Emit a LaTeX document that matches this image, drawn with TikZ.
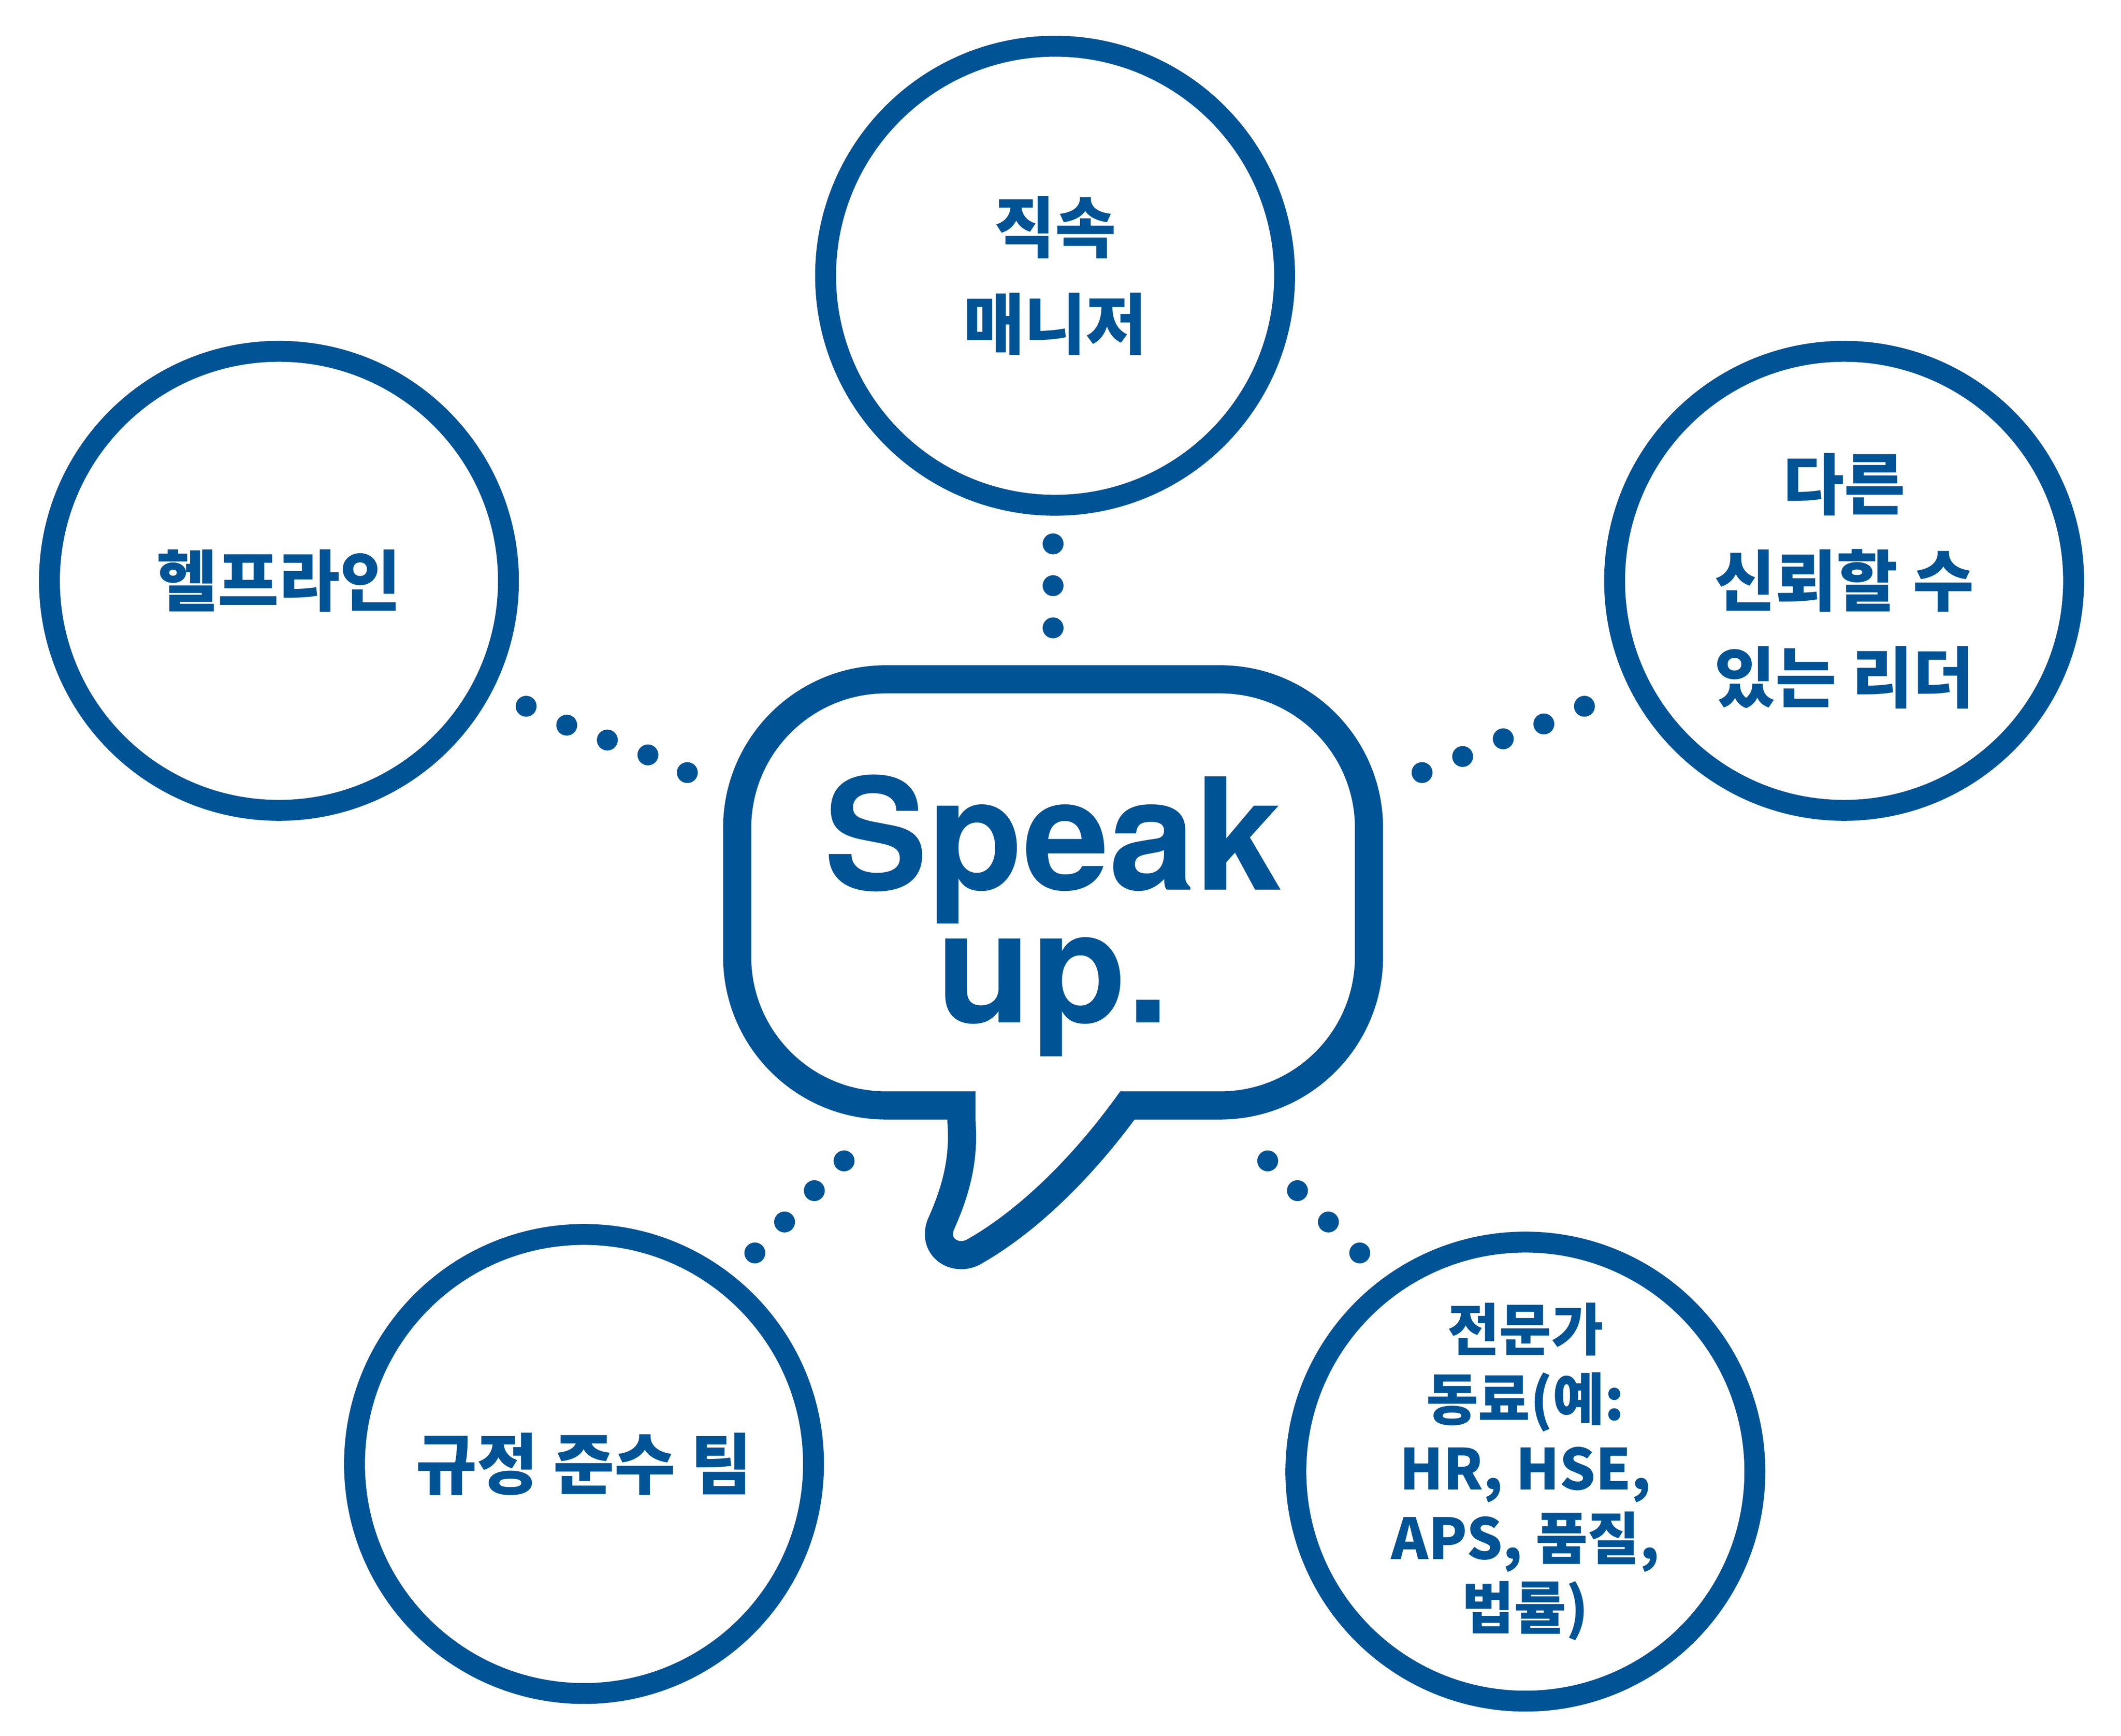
\documentclass[tikz,border=0pt]{standalone}
\usepackage{fontspec}
\usepackage{xcolor}
\usepackage{tikz}
\usetikzlibrary{positioning}

\newfontfamily\kofont{Noto Sans CJK KR}
\newfontfamily\speakfont{TeX Gyre Heros}
\definecolor{speakblue}{RGB}{0,84,150}

\begin{document}
\begin{tikzpicture}[
  ring/.style={circle, draw=speakblue, line width=0.52cm, minimum size=11.42cm, inner sep=0pt,
    text=speakblue, align=center, font=\kofont\bfseries\fontsize{47}{68.3}\selectfont},
  smallring/.style={ring, font=\kofont\bfseries\fontsize{40}{49.2}\selectfont},
  bubble/.style={draw=speakblue, line width=0.70cm},
  speakdot/.style={fill=speakblue}
]
\useasboundingbox (0,0) rectangle (52.77,43.18);

% speech bubble
\draw[bubble] (23.92,15.68) -- (23.92,15.28)
  .. controls (24.00,14.28) and (23.75,13.48) .. (23.40,12.70)
  .. controls (23.20,12.12) and (23.80,11.78) .. (24.25,12.05)
  .. controls (25.65,12.85) and (27.00,14.23) .. (28.05,15.68)
  -- (30.36,15.68) arc (-90:0:3.70) -- (34.06,22.58) arc (0:90:3.70)
  -- (22.04,26.28) arc (90:180:3.70) -- (18.34,19.38) arc (180:270:3.70) -- cycle;
\node[text=speakblue, align=center, font=\speakfont\bfseries\fontsize{110}{94}\selectfont] (speak) at (26.20,20.40) {Speak\\up.};

% circles
\node[ring] (manager) at (26.25,36.32) {직속\\매니저};
\node[ring] (helpline) at (6.94,28.73) {헬프라인};
\node[ring] (leader) at (45.88,28.73) {다른\\신뢰할 수\\있는 리더};
\node[ring] (compliance) at (14.53,6.76) {규정 준수 팀};
\node[smallring] (expert) at (37.95,6.57) {전문가\\동료(예:\\HR, HSE,\\APS, 품질,\\법률)};

% dots
\foreach \x/\y in {26.20/29.65, 26.20/28.61, 26.20/27.56,
  13.09/25.61, 14.10/25.14, 15.11/24.77, 16.12/24.40, 17.10/23.96,
  35.38/23.96, 36.39/24.36, 37.40/24.80, 38.41/25.17, 39.42/25.61,
  21.00/14.30, 20.26/13.56, 19.52/12.78, 18.78/12.01,
  31.54/14.30, 32.28/13.56, 33.05/12.78, 33.83/12.01}
  \fill[speakdot] (\x,\y) circle (0.26);

\end{tikzpicture}
\end{document}
